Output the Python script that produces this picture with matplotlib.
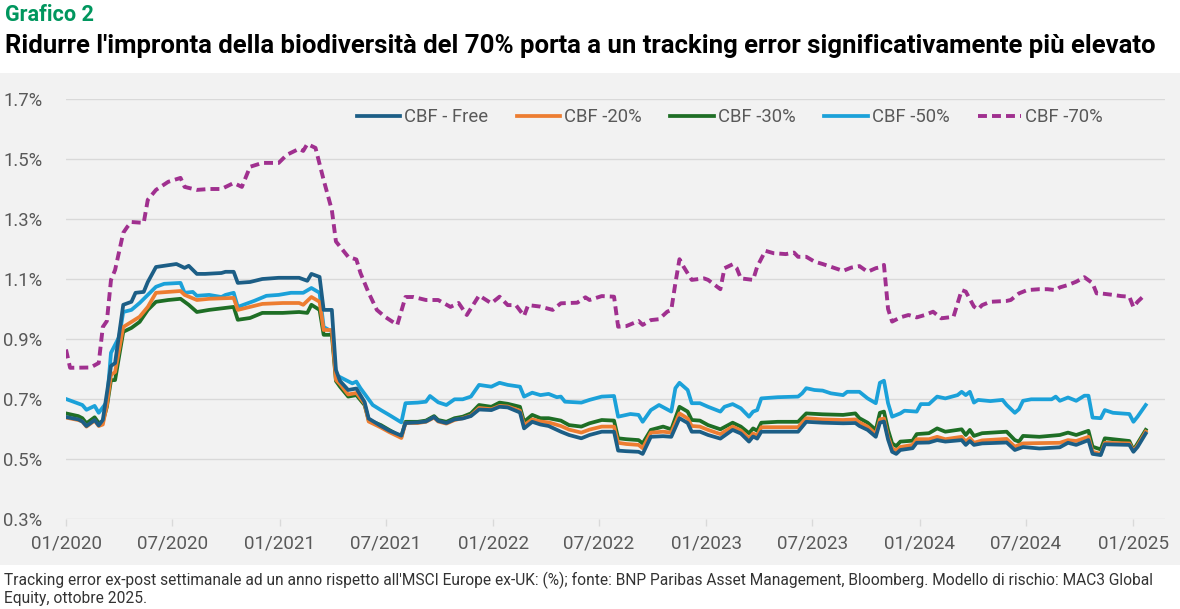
import matplotlib
matplotlib.use('Agg')
import matplotlib.pyplot as plt
import matplotlib.dates as mdates
from matplotlib.patches import Rectangle
import pandas as pd

# ---------------- DATA (weeks since 2020-01-01, tracking error in %) ----------------
START = '2020-01-01'

weeks_free = [0, 3, 4, 5, 7, 8, 9, 10, 11, 12, 14, 16, 17, 19, 20, 22, 24, 27, 29, 30, 32, 34, 38, 39, 41, 42, 45, 48, 52, 57, 59, 60, 62, 63, 65, 66,
              67, 69, 71, 73, 74, 77, 79, 82, 83, 86, 88, 90, 91, 93, 95, 97, 99, 101, 104, 106, 108, 111, 112, 114, 116, 118, 121, 123, 126, 128, 131, 134,
              135, 137, 140, 141, 143, 146, 148, 150, 152, 153, 155, 157, 160, 163, 165, 167, 168, 169, 170, 174, 179, 181, 185, 190, 193, 194, 196, 198,
              199, 200, 201, 202, 203, 204, 207, 208, 211, 213, 215, 219, 220, 221, 222, 224, 230, 232, 233, 234, 238, 243, 245, 247, 250, 251, 253, 254,
              260, 261, 262, 264]
te_free = [0.640, 0.632, 0.625, 0.610, 0.630, 0.612, 0.630, 0.720, 0.810, 0.820, 1.014, 1.024, 1.054, 1.057, 1.090, 1.140, 1.144, 1.150, 1.137, 1.144,
           1.117, 1.117, 1.120, 1.124, 1.124, 1.087, 1.090, 1.100, 1.104, 1.104, 1.094, 1.117, 1.107, 0.997, 0.997, 0.797,
           0.760, 0.730, 0.735, 0.690, 0.635, 0.610, 0.595, 0.578, 0.620, 0.622, 0.625, 0.640, 0.627, 0.620, 0.632, 0.635, 0.643, 0.665, 0.663, 0.674,
           0.672, 0.655, 0.602, 0.624, 0.615, 0.610, 0.591, 0.580, 0.569, 0.580, 0.591, 0.591,
           0.528, 0.526, 0.524, 0.517, 0.574, 0.576, 0.574, 0.636, 0.620, 0.591, 0.591, 0.580, 0.568, 0.597, 0.585, 0.558, 0.575, 0.568, 0.591, 0.591,
           0.591, 0.624, 0.621, 0.619, 0.620, 0.610, 0.597, 0.574,
           0.621, 0.625, 0.565, 0.524, 0.517, 0.530, 0.536, 0.554, 0.555, 0.563, 0.558, 0.563, 0.547, 0.560, 0.547, 0.552, 0.555, 0.530, 0.535, 0.540,
           0.535, 0.539, 0.554, 0.547, 0.563, 0.517, 0.513, 0.549, 0.547, 0.524, 0.540, 0.585]

weeks_20 = [0, 3, 4, 5, 7, 8, 9, 10, 11, 12, 14, 16, 18, 20, 22, 25, 28, 29, 32, 35, 41, 42, 45, 48, 53, 57, 58, 60, 62, 63, 65, 66,
            67, 69, 71, 73, 74, 77, 79, 82, 83, 86, 88, 90, 91, 93, 95, 97, 99, 101, 104, 106, 108, 111, 112, 114, 116, 118, 121, 123, 126, 128, 131, 134,
            135, 137, 140, 141, 143, 146, 148, 150, 152, 153, 155, 157, 160, 163, 165, 167, 168, 169, 170, 174, 179, 181, 185, 190, 193, 194, 196, 198,
            199, 200, 201, 202, 203, 204, 207, 208, 211, 213, 215, 219, 220, 221, 222, 224, 230, 232, 233, 234, 238, 243, 245, 247, 250, 251, 253, 254,
            260, 261, 262, 264]
te_20 = [0.638, 0.630, 0.625, 0.608, 0.628, 0.610, 0.615, 0.680, 0.780, 0.790, 0.940, 0.957, 0.974, 1.007, 1.054, 1.057, 1.060, 1.047, 1.030, 1.034,
         1.037, 0.997, 1.007, 1.017, 1.020, 1.020, 1.014, 1.040, 1.024, 0.930, 0.930, 0.764,
         0.750, 0.715, 0.720, 0.685, 0.625, 0.605, 0.590, 0.570, 0.620, 0.620, 0.624, 0.638, 0.625, 0.618, 0.630, 0.636, 0.645, 0.670, 0.666, 0.677,
         0.675, 0.661, 0.613, 0.632, 0.625, 0.622, 0.610, 0.598, 0.588, 0.598, 0.608, 0.608,
         0.554, 0.550, 0.547, 0.536, 0.588, 0.591, 0.588, 0.652, 0.635, 0.610, 0.608, 0.597, 0.583, 0.608, 0.595, 0.569, 0.585, 0.578, 0.606, 0.606,
         0.606, 0.636, 0.632, 0.630, 0.632, 0.622, 0.608, 0.583,
         0.632, 0.635, 0.574, 0.536, 0.528, 0.540, 0.547, 0.566, 0.566, 0.574, 0.566, 0.574, 0.558, 0.570, 0.554, 0.562, 0.567, 0.541, 0.547, 0.552,
         0.553, 0.554, 0.563, 0.560, 0.574, 0.524, 0.517, 0.554, 0.552, 0.527, 0.545, 0.591]

weeks_30 = [0, 3, 4, 5, 7, 8, 9, 10, 11, 12, 14, 16, 18, 20, 22, 25, 28, 30, 32, 35, 41, 42, 45, 48, 53, 57, 59, 60, 62, 63, 65, 66,
            67, 69, 71, 73, 74, 77, 79, 82, 83, 86, 88, 90, 91, 93, 95, 97, 99, 101, 104, 106, 108, 111, 112, 114, 116, 118, 121, 123, 126, 128, 131, 134,
            135, 137, 140, 141, 143, 146, 148, 150, 152, 153, 155, 157, 160, 163, 165, 167, 168, 169, 170, 174, 179, 181, 185, 190, 193, 194, 196, 198,
            199, 200, 201, 202, 203, 204, 207, 208, 211, 213, 215, 219, 220, 221, 222, 224, 230, 232, 233, 234, 238, 243, 245, 247, 250, 251, 253, 254,
            256, 260, 261, 262, 264]
te_30 = [0.652, 0.643, 0.636, 0.619, 0.639, 0.620, 0.625, 0.674, 0.763, 0.763, 0.924, 0.937, 0.957, 0.997, 1.024, 1.030, 1.034, 1.014, 0.990, 0.997,
         1.007, 0.964, 0.970, 0.987, 0.987, 0.990, 0.987, 1.014, 0.997, 0.914, 0.914, 0.760,
         0.741, 0.708, 0.713, 0.680, 0.630, 0.613, 0.597, 0.574, 0.624, 0.624, 0.628, 0.643, 0.630, 0.624, 0.636, 0.641, 0.652, 0.680, 0.674, 0.688,
         0.684, 0.674, 0.624, 0.647, 0.636, 0.636, 0.628, 0.613, 0.608, 0.619, 0.630, 0.628,
         0.569, 0.566, 0.563, 0.552, 0.597, 0.608, 0.599, 0.674, 0.658, 0.630, 0.628, 0.613, 0.599, 0.621, 0.608, 0.586, 0.602, 0.594, 0.621, 0.624,
         0.624, 0.652, 0.649, 0.647, 0.652, 0.636, 0.621, 0.597,
         0.654, 0.658, 0.597, 0.552, 0.543, 0.558, 0.561, 0.583, 0.586, 0.602, 0.591, 0.599, 0.580, 0.597, 0.577, 0.586, 0.591, 0.563, 0.558, 0.577,
         0.574, 0.580, 0.588, 0.580, 0.594, 0.541, 0.532, 0.569,
         0.566, 0.560, 0.530, 0.552, 0.597]

weeks_50 = [0, 4, 5, 7, 8, 10, 11, 13, 14, 16, 18, 20, 22, 24, 28, 29, 31, 32, 35, 38, 39, 41, 42, 44, 46, 49, 52, 55, 58, 60, 62, 63, 65, 66,
            70, 71, 72, 75, 77, 79, 82, 83, 86, 88, 89, 91, 93, 95, 97, 99, 101, 104, 106, 108, 111, 112, 114, 116, 118, 120, 121, 122, 126, 128, 131, 134,
            135, 138, 140, 141, 143, 145, 148, 149, 150, 152, 153, 155, 157, 160, 161, 163, 165, 167, 168, 169, 170, 174, 179, 180, 181, 183, 185, 187,
            190, 191, 194, 196, 198, 199, 200, 201, 202, 204, 205, 208, 209, 211, 213, 215, 218, 219, 220, 221, 222, 223, 226, 229, 230, 232, 233, 234,
            236, 241, 242, 243, 245, 247, 249, 250, 251, 253, 254, 256, 260, 261, 262, 264]
te_50 = [0.700, 0.680, 0.664, 0.677, 0.654, 0.690, 0.854, 0.907, 0.990, 0.997, 1.020, 1.047, 1.074, 1.084, 1.087, 1.054, 1.057, 1.044, 1.047, 1.040,
         1.047, 1.054, 1.007, 1.017, 1.027, 1.044, 1.047, 1.054, 1.054, 1.070, 1.054, 0.940, 0.925, 0.780,
         0.752, 0.758, 0.736, 0.680, 0.663, 0.647, 0.622, 0.686, 0.688, 0.691, 0.710, 0.689, 0.680, 0.699, 0.699, 0.708, 0.747, 0.741, 0.754, 0.747,
         0.741, 0.708, 0.721, 0.713, 0.717, 0.706, 0.708, 0.691, 0.688, 0.697, 0.708, 0.710,
         0.641, 0.650, 0.647, 0.624, 0.663, 0.680, 0.658, 0.736, 0.754, 0.730, 0.686, 0.686, 0.674, 0.658, 0.674, 0.683, 0.669, 0.641, 0.658, 0.663,
         0.702, 0.706, 0.708, 0.719, 0.736, 0.730, 0.728, 0.719,
         0.713, 0.724, 0.724, 0.702, 0.686, 0.754, 0.761, 0.686, 0.641, 0.652, 0.661, 0.658, 0.683, 0.683, 0.708, 0.702, 0.713, 0.724, 0.713, 0.724,
         0.688, 0.697, 0.693, 0.697, 0.680, 0.654, 0.666, 0.694,
         0.699, 0.699, 0.708, 0.694, 0.705, 0.694, 0.711, 0.711, 0.638, 0.636, 0.663, 0.654, 0.650, 0.624, 0.641, 0.680]

weeks_70 = [0, 1, 6, 8, 9, 10, 11, 12, 14, 15, 16, 19, 20, 22, 25, 28, 29, 32, 35, 38, 41, 43, 45, 48, 52, 54, 57, 58, 59, 61, 63, 65, 66,
            69, 71, 72, 74, 76, 78, 81, 83, 85, 88, 91, 94, 96, 98, 101, 104, 106, 108, 110, 112, 113, 116, 119, 121, 125, 127, 128, 131, 134,
            135, 137, 140, 141, 143, 145, 147, 148, 149, 150, 151, 153, 156, 157, 160, 161, 163, 164, 165, 168, 169, 171, 173, 176, 178, 179, 181,
            183, 185, 188, 190, 192, 194, 196, 198, 199, 200, 201, 202, 204, 206, 208, 210, 212, 214, 217, 218, 219, 220, 222, 223, 224, 226,
            230, 231, 233, 235, 238, 240, 242, 243, 245, 247, 249, 251, 252, 253, 256, 258, 260, 261, 262, 264]
te_70 = [0.865, 0.804, 0.805, 0.820, 0.940, 0.960, 1.097, 1.130, 1.254, 1.274, 1.290, 1.287, 1.364, 1.397, 1.424, 1.437, 1.407, 1.397, 1.400, 1.400,
         1.420, 1.407, 1.474, 1.487, 1.487, 1.514, 1.534, 1.527, 1.550, 1.537, 1.430, 1.330, 1.225,
         1.174, 1.165, 1.120, 1.054, 0.997, 0.974, 0.947, 1.040, 1.040, 1.030, 1.030, 1.007, 1.020, 0.980, 1.045, 1.019, 1.041, 1.013, 1.013, 0.977,
         1.013, 1.008, 0.997, 1.019, 1.021, 1.039, 1.030, 1.043, 1.041,
         0.941, 0.943, 0.960, 0.947, 0.963, 0.966, 0.991, 0.997, 1.086, 1.166, 1.141, 1.097, 1.102, 1.097, 1.066, 1.136, 1.149, 1.136, 1.102, 1.097,
         1.141, 1.194, 1.186, 1.183, 1.188, 1.174, 1.174,
         1.158, 1.150, 1.136, 1.127, 1.138, 1.143, 1.124, 1.136, 1.139, 1.147, 1.000, 0.958, 0.972, 0.980, 0.972, 0.980, 0.991, 0.969, 0.974, 1.019,
         1.063, 1.058, 1.008, 0.999, 1.013, 1.024,
         1.027, 1.030, 1.052, 1.063, 1.066, 1.066, 1.063, 1.072, 1.080, 1.091, 1.106, 1.086, 1.052, 1.052, 1.047, 1.043, 1.041, 1.006, 1.024, 1.050]

series_labels = ['CBF - Free', 'CBF -20%', 'CBF -30%', 'CBF -50%', 'CBF -70%']
y_ticks = [0.3, 0.5, 0.7, 0.9, 1.1, 1.3, 1.5, 1.7]
x_ticks = ['2020-01-01', '2020-07-01', '2021-01-01', '2021-07-01', '2022-01-01', '2022-07-01',
           '2023-01-01', '2023-07-01', '2024-01-01', '2024-07-01', '2025-01-01']

title_small = 'Grafico 2'
title_main = "Ridurre l'impronta della biodiversità del 70% porta a un tracking error significativamente più elevato"
footer_1 = ("Tracking error ex-post settimanale ad un anno rispetto all'MSCI Europe ex-UK: (%); fonte: BNP Paribas Asset "
            "Management, Bloomberg. Modello di rischio: MAC3 Global")
footer_2 = "Equity, ottobre 2025."

# ---------------- STYLE ----------------
colors = ['#1c5e86', '#ed7d31', '#1e6e25', '#1ba1d9', '#a0308f']
TXT = '#595959'
W, H = 1180, 609
FONT = ['Roboto', 'DejaVu Sans']
NARROW = ['Liberation Sans Narrow', 'Roboto', 'DejaVu Sans']

fig = plt.figure(figsize=(W / 100, H / 100), dpi=100)
fig.patch.set_facecolor('white')
fig.patches.append(Rectangle((0, 1 - 565 / H), 1, (565 - 73) / H, transform=fig.transFigure,
                             facecolor='#f2f2f2', edgecolor='none', zorder=-10))

ax = fig.add_axes([66 / W, 1 - 519 / H, (1165 - 66) / W, (519 - 99) / H])
ax.set_facecolor('none')

def to_dates(weeks):
    return pd.Timestamp(START) + pd.to_timedelta([7 * w for w in weeks], unit='D')

data = [(weeks_free, te_free), (weeks_20, te_20), (weeks_30, te_30), (weeks_50, te_50), (weeks_70, te_70)]
handles = []
for i, ((wk, vals), lab, col) in enumerate(zip(data, series_labels, colors)):
    if i == 4:
        h, = ax.plot(to_dates(wk), vals, color=col, lw=2.8, linestyle=(0, (2.3, 1.3)), label=lab,
                     solid_joinstyle='round', zorder=5)
    else:
        h, = ax.plot(to_dates(wk), vals, color=col, lw=2.7, label=lab, solid_joinstyle='round',
                     zorder=4 - i * 0.1 if i != 3 else 3)
    handles.append(h)

ax.set_ylim(0.3, 1.7)
ax.set_xlim(pd.Timestamp('2020-01-01'), pd.Timestamp('2025-02-24'))
ax.set_yticks(y_ticks)
ax.set_yticklabels([f'{v:.1f}%' for v in y_ticks])
xt = pd.to_datetime(x_ticks)
ax.set_xticks(xt)
ax.set_xticklabels([d.strftime('%m/%Y') for d in xt])
ax.grid(axis='y', color='#d9d9d9', lw=1)
ax.set_axisbelow(True)
for s in ax.spines.values():
    s.set_visible(False)
ax.tick_params(axis='y', length=0, pad=17, labelsize=13.3, labelcolor=TXT)
ax.tick_params(axis='x', length=5, width=1, color='#d9d9d9', direction='out', pad=6,
               labelsize=13.5, labelcolor=TXT)
for t in ax.get_xticklabels() + ax.get_yticklabels():
    t.set_family(FONT)

leg = ax.legend(handles=handles, loc='center', bbox_to_anchor=(0.604, 0.957), ncol=5, frameon=False,
                prop={'family': FONT, 'size': 13.3}, handlelength=2.35, handletextpad=0.22,
                columnspacing=1.55, labelcolor=TXT)

t1 = fig.text(5 / W, 1 - 15 / H, title_small, color='#00965e', fontsize=15.5, fontweight='bold',
              family=FONT, va='center', ha='left')
t2 = fig.text(5 / W, 1 - 46 / H, title_main, color='black', fontsize=15.5, fontweight='bold',
              family=FONT, va='center', ha='left')
f1 = fig.text(4 / W, 1 - 580 / H, footer_1, color='#333333', fontsize=10.5, family=NARROW,
              va='center', ha='left')
f2 = fig.text(4 / W, 1 - 599 / H, footer_2, color='#333333', fontsize=10.5, family=NARROW,
              va='center', ha='left')

# fit text widths to the reference layout
fig.canvas.draw()
r = fig.canvas.get_renderer()
for t, target in [(t2, 1148), (t1, 89), (f1, 1150)]:
    wpx = t.get_window_extent(r).width
    t.set_fontsize(t.get_fontsize() * target / wpx)
f2.set_fontsize(f1.get_fontsize())

fig.savefig('out.png', dpi=100, facecolor='white')
